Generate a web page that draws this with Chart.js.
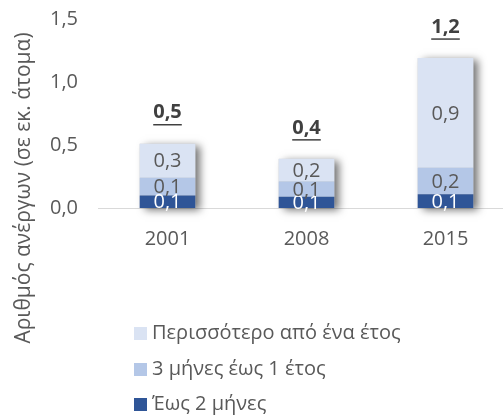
<!DOCTYPE html>
<html><head><meta charset="utf-8">
<script src="https://cdn.jsdelivr.net/npm/chart.js@4/dist/chart.umd.min.js"></script>
<style>
html,body{margin:0;padding:0;background:#fff;overflow:hidden;width:503px;height:418px;}
#wrap{position:relative;width:515px;height:418px;}
</style></head>
<body><div id="wrap"><canvas id="c" width="515" height="418"></canvas></div>
<script>
const categories = ['2001', '2008', '2015'];
const seriesNames = ['Έως 2 μήνες', '3 μήνες έως 1 έτος', 'Περισσότερο από ένα έτος'];
const upTo2Months = [0.10, 0.09, 0.11];
const months3To1Year = [0.14, 0.12, 0.21];
const moreThan1Year = [0.27, 0.18, 0.87];
const yTicks = [0, 0.5, 1.0, 1.5];
const axisTitle = 'Αριθμός ανέργων (σε εκ. άτομα)';
const colors = ['#2F5597', '#B4C7E7', '#DAE3F3'];
const labelColors = ['#ffffff', '#595959', '#595959'];

const FONT = '"Open Sans", "Noto Sans", sans-serif';
const FS = 20;
const fmt = v => v.toFixed(1).replace('.', ',');

const shadowPlugin = {
  id: 'shadow',
  beforeDatasetsDraw(chart) {
    const ctx = chart.ctx;
    const n = chart.data.datasets.length;
    const topMeta = chart.getDatasetMeta(n - 1);
    const y0 = chart.scales.y.getPixelForValue(0);
    ctx.save();
    topMeta.data.forEach(el => {
      ctx.shadowColor = 'rgba(0,0,0,0.55)';
      ctx.shadowBlur = 8;
      ctx.shadowOffsetX = 5;
      ctx.shadowOffsetY = 2;
      ctx.fillStyle = '#cccccc';
      ctx.fillRect(el.x - el.width / 2, el.y, el.width, y0 - el.y);
    });
    ctx.restore();
  }
};

const labelPlugin = {
  id: 'labels',
  afterDatasetsDraw(chart) {
    const ctx = chart.ctx;
    ctx.save();
    ctx.textAlign = 'center';
    ctx.textBaseline = 'middle';
    ctx.font = FS + 'px ' + FONT;
    chart.data.datasets.forEach((ds, di) => {
      const meta = chart.getDatasetMeta(di);
      ctx.fillStyle = labelColors[di];
      meta.data.forEach((el, i) => {
        ctx.fillText(fmt(ds.data[i]), el.x, (el.y + el.base) / 2 + 1);
      });
    });
    const n = chart.data.datasets.length;
    const topMeta = chart.getDatasetMeta(n - 1);
    ctx.font = 'bold ' + FS + 'px ' + FONT;
    ctx.fillStyle = '#404040';
    ctx.strokeStyle = '#404040';
    ctx.lineWidth = 1.5;
    topMeta.data.forEach((el, i) => {
      let total = 0;
      chart.data.datasets.forEach(ds => total += ds.data[i]);
      const t = fmt(total);
      const ty = el.y - 31;
      ctx.fillText(t, el.x, ty);
      const w = ctx.measureText(t).width;
      ctx.beginPath();
      ctx.moveTo(el.x - w / 2, ty + 12);
      ctx.lineTo(el.x + w / 2, ty + 12);
      ctx.stroke();
    });
    ctx.restore();
  }
};

const decorPlugin = {
  id: 'decor',
  afterDraw(chart) {
    const ctx = chart.ctx;
    ctx.save();
    ctx.font = '21px ' + FONT;
    ctx.fillStyle = '#595959';
    ctx.textAlign = 'center';
    ctx.textBaseline = 'middle';
    ctx.translate(24, 188);
    ctx.rotate(-Math.PI / 2);
    ctx.fillText(axisTitle, 0, 0);
    ctx.restore();
    ctx.save();
    ctx.font = FS + 'px ' + FONT;
    ctx.textAlign = 'left';
    ctx.textBaseline = 'middle';
    const ys = [333, 369, 404];
    const order = chart.data.datasets.map((d, i) => i).reverse();
    order.forEach((di, k) => {
      const ds = chart.data.datasets[di];
      ctx.fillStyle = ds.backgroundColor;
      ctx.fillRect(134, ys[k] - 6, 13, 13);
      ctx.fillStyle = '#595959';
      ctx.fillText(ds.label, 152, ys[k]);
    });
    ctx.restore();
  }
};

const seriesData = [upTo2Months, months3To1Year, moreThan1Year];

new Chart(document.getElementById('c'), {
  type: 'bar',
  data: {
    labels: categories,
    datasets: seriesNames.map((name, i) => ({
      label: name,
      data: seriesData[i],
      backgroundColor: colors[i],
      borderWidth: 0,
      barPercentage: 0.4,
      categoryPercentage: 1.0
    }))
  },
  options: {
    responsive: false,
    animation: false,
    devicePixelRatio: 1,
    layout: { padding: { left: 0, top: 19, right: 0, bottom: 160 } },
    plugins: { legend: { display: false }, tooltip: { enabled: false } },
    scales: {
      x: {
        stacked: true,
        grid: { display: false, drawTicks: false },
        border: { display: true, color: '#d9d9d9', width: 1 },
        ticks: { color: '#595959', font: { family: FONT, size: FS }, padding: 19 },
        afterFit(s) { s.height = 50; s.paddingLeft = 0; s.paddingRight = 0; }
      },
      y: {
        stacked: true,
        min: 0, max: 1.5,
        grid: { display: false, drawTicks: false },
        border: { display: false },
        afterBuildTicks(s) { s.ticks = yTicks.map(v => ({ value: v })); },
        ticks: { color: '#595959', font: { family: FONT, size: FS }, padding: 20, callback: v => fmt(v) },
        afterFit(s) { s.width = 98; s.paddingTop = 0; s.paddingBottom = 0; }
      }
    }
  },
  plugins: [shadowPlugin, labelPlugin, decorPlugin]
});
</script>
</body></html>
